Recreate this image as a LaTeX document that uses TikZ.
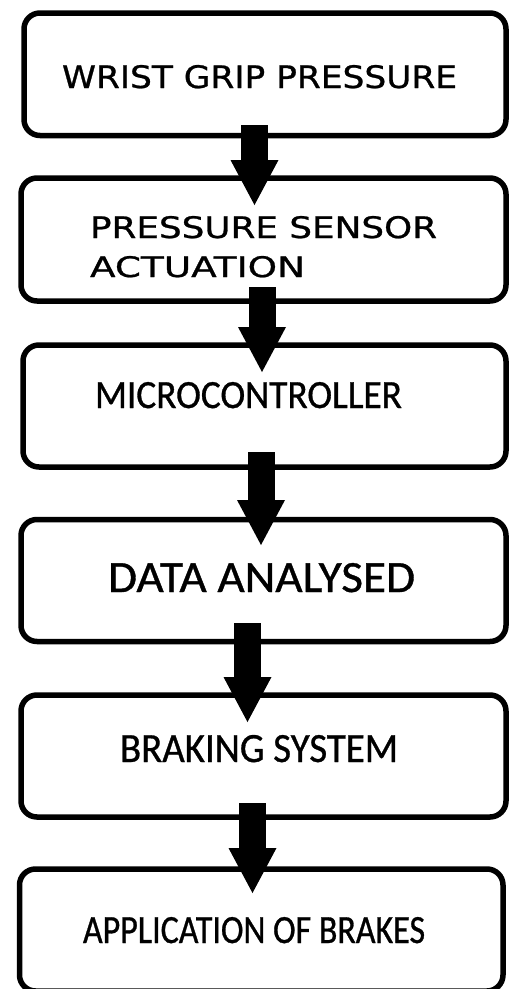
\documentclass[tikz,border=0pt]{standalone}
\usepackage{fontspec}
\usepackage{graphicx}
\usetikzlibrary{arrows.meta}
\newfontfamily\wide[FakeBold=0.8]{DejaVu Sans}
\newfontfamily\cali[FakeBold=0.8]{Carlito}
\begin{document}
\begin{tikzpicture}[x=1pt,y=-1pt,
  box/.style={draw=black,line width=5.5pt,rounded corners=16pt,inner sep=0pt,outer sep=0pt,fill=white},
  lbl/.style={anchor=base west,inner sep=0pt,outer sep=0pt},
  blockarrow/.style={line width=27pt,-{Triangle[length=45pt,width=48pt,line width=0pt]}}]
\useasboundingbox (0,0) rectangle (510,989);
\clip (0,0) rectangle (510,989);
\fill[white] (0,0) rectangle (510,989);
% boxes
\node[box,minimum width=482pt,minimum height=122.5pt] (b1) at (265,74.25) {};
\node[box,minimum width=485pt,minimum height=123pt] (b2) at (263.5,239.5) {};
\node[box,minimum width=483pt,minimum height=122pt] (b3) at (264.5,406) {};
\node[box,minimum width=485pt,minimum height=122pt] (b4) at (263.5,580.5) {};
\node[box,minimum width=485pt,minimum height=122pt] (b5) at (263.5,756) {};
\node[box,minimum width=483.5pt,minimum height=122pt] (b6) at (261.25,930) {};
% texts
\node[lbl] (t1) at (62,88) {\resizebox{395pt}{23pt}{\wide WRIST GRIP PRESSURE}};
\node[lbl] (t2a) at (90,238) {\resizebox{347pt}{22pt}{\wide PRESSURE SENSOR}};
\node[lbl] (t2b) at (90,277) {\resizebox{215pt}{21pt}{\wide ACTUATION}};
\node[lbl] (t3) at (95,408) {\resizebox{307pt}{26pt}{\cali MICROCONTROLLER}};
\node[lbl] (t4) at (108,592) {\resizebox{307pt}{29pt}{\cali DATA ANALYSED}};
\node[lbl] (t5) at (120,762) {\resizebox{278pt}{27pt}{\cali BRAKING SYSTEM}};
\node[lbl] (t6) at (83,943) {\resizebox{342pt}{26pt}{\cali APPLICATION OF BRAKES}};
% arrows
\draw[blockarrow] ([xshift=-10.5pt,yshift=10.5pt]b1.south) -- ([xshift=-9pt,yshift=-27pt]b2.north);
\draw[blockarrow] ([xshift=-1.5pt,yshift=14pt]b2.south) -- ([xshift=-2.5pt,yshift=-27pt]b3.north);
\draw[blockarrow] ([xshift=-3.5pt,yshift=15pt]b3.south) -- ([xshift=-2.5pt,yshift=-25.5pt]b4.north);
\draw[blockarrow] ([xshift=-16pt,yshift=18.5pt]b4.south) -- ([xshift=-16pt,yshift=-27pt]b5.north);
\draw[blockarrow] ([xshift=-11pt,yshift=14pt]b5.south) -- ([xshift=-8.75pt,yshift=-24pt]b6.north);
\end{tikzpicture}
\end{document}
